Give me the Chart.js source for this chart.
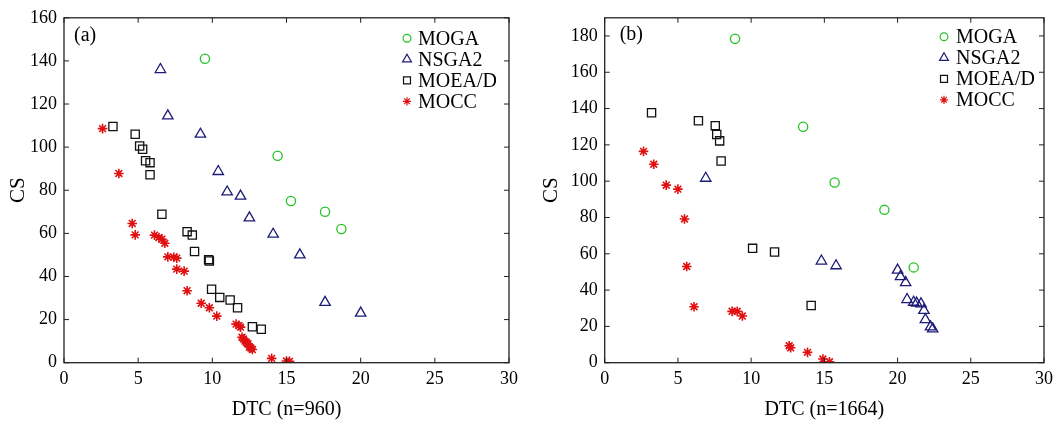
<!DOCTYPE html>
<html><head><meta charset="utf-8">
<script src="https://cdn.jsdelivr.net/npm/chart.js@4/dist/chart.umd.min.js"></script>
<style>
html,body{margin:0;padding:0;background:#fff;width:1059px;height:424px;overflow:hidden}
#ca{position:absolute;left:0;top:0}
#cb{position:absolute;left:530px;top:0}
</style></head><body>
<canvas id="ca" width="530" height="424"></canvas>
<canvas id="cb" width="529" height="424"></canvas>
<script>
const seriesNames = ['MOGA', 'NSGA2', 'MOEA/D', 'MOCC'];
const panelLabels = ['(a)', '(b)'];
const xTitles = ['DTC (n=960)', 'DTC (n=1664)'];
const yTitle = 'CS';
const xTickValues = [0, 5, 10, 15, 20, 25, 30];
const yTicksA = [0, 20, 40, 60, 80, 100, 120, 140, 160];
const yTicksB = [0, 20, 40, 60, 80, 100, 120, 140, 160, 180];

// Panel (a) — [DTC, CS]
const mogaA = [[9.5,141],[14.4,96],[15.3,75],[17.6,70],[18.7,62]];
const nsga2A = [[6.5,136],[7.0,114.5],[9.2,106],[10.4,88.7],[11.0,79.2],[11.9,77.3],[12.5,67.2],[14.1,59.6],[15.9,50],[17.6,28],[20.0,23]];
const moeadA = [[3.3,109.6],[4.8,106],[5.1,100.5],[5.3,99],[5.5,93.7],[5.8,92.8],[5.8,87.2],[6.6,68.9],[8.3,60.8],[8.65,59.2],[8.8,51.6],[9.75,47.8],[9.8,47.2],[9.95,34.1],[10.5,30.3],[11.2,29.1],[11.7,25.5],[12.7,16.7],[13.3,15.5]];
const moccA = [[2.6,108.6],[3.7,87.8],[4.6,64.6],[4.8,59.3],[6.1,59.2],[6.4,58.1],[6.6,57.3],[6.8,55.4],[7.0,49.1],[7.4,48.9],[7.6,48.5],[7.6,43.4],[8.1,42.5],[8.3,33.4],[9.25,27.6],[9.8,25.5],[10.3,21.6],[11.6,17.9],[11.8,17.2],[11.9,16.5],[12.0,11.8],[12.1,11],[12.2,10],[12.3,9.4],[12.4,8.8],[12.5,7.3],[12.6,6.8],[12.7,6.1],[14.0,2.0],[15.0,0.8],[15.2,0.6]];

// Panel (b) — [DTC, CS]
const mogaB = [[8.9,178.5],[13.55,130],[15.7,99.3],[19.1,84.2],[21.1,52.5]];
const nsga2B = [[6.9,101.6],[14.8,56],[15.8,53.4],[20.0,51],[20.2,47.4],[20.55,44.1],[20.65,34.8],[21.1,33.3],[21.3,32.8],[21.6,32.4],[21.8,28.8],[21.9,23.7],[22.25,19.7],[22.4,18.6]];
const moeadB = [[3.2,137.7],[6.4,133.3],[7.55,130.6],[7.65,125.7],[7.85,122.2],[7.95,111.1],[10.1,63],[11.6,61],[14.1,31.5]];
const moccB = [[2.65,116.4],[3.35,109.3],[4.2,97.8],[5.0,95.6],[5.45,79.2],[5.6,53],[6.1,30.8],[8.7,28.3],[9.05,28.3],[9.4,25.7],[12.6,9.3],[12.7,8.2],[13.85,5.7],[14.9,2.0],[15.35,0.5]];

const FONT = "'Liberation Serif', 'Times New Roman', serif";
const styles = [
  {pointStyle:'circle', radius:4.6, color:'#22c322', lw:1.3},
  {pointStyle:'triangle', radius:6, color:'#1b1b78', lw:1.3},
  {pointStyle:'rect', radius:5.8, color:'#111111', lw:1.3},
  {pointStyle:'star', radius:4.8, color:'#e01010', lw:1.6}
];

function toPts(arr){ return arr.map(p => ({x:p[0], y:p[1]})); }

function makeDatasets(series){
  return series.map((s,i) => ({
    label: seriesNames[i],
    data: toPts(s),
    pointStyle: styles[i].pointStyle,
    pointRadius: styles[i].radius,
    pointBorderColor: styles[i].color,
    pointBackgroundColor: 'rgba(0,0,0,0)',
    pointBorderWidth: styles[i].lw,
    showLine: false
  }));
}

const framePlugin = {
  id: 'frame',
  afterDatasetsDraw(chart){
    const {ctx, chartArea: a, scales} = chart;
    const o = chart.options.plugins.frame;
    ctx.save();
    ctx.strokeStyle = '#222';
    ctx.lineWidth = 1.3;
    ctx.strokeRect(a.left, a.top, a.right - a.left, a.bottom - a.top);
    ctx.lineWidth = 1;
    const tl = 5;
    ctx.beginPath();
    scales.x.ticks.forEach(t => {
      const px = scales.x.getPixelForValue(t.value);
      ctx.moveTo(px, a.bottom); ctx.lineTo(px, a.bottom - tl);
      ctx.moveTo(px, a.top); ctx.lineTo(px, a.top + tl);
    });
    scales.y.ticks.forEach(t => {
      const py = scales.y.getPixelForValue(t.value);
      ctx.moveTo(a.left, py); ctx.lineTo(a.left + tl, py);
      ctx.moveTo(a.right, py); ctx.lineTo(a.right - tl, py);
    });
    ctx.stroke();
    // panel label
    ctx.fillStyle = '#000';
    ctx.font = '20px ' + FONT;
    ctx.textBaseline = 'middle';
    ctx.textAlign = 'left';
    ctx.fillText(o.label, a.left + o.labelDx, a.top + o.labelDy);
    // legend
    chart.data.datasets.forEach((ds, i) => {
      const y = a.top + o.legTop + i * o.legStep;
      const mx = a.right - o.legRight;
      ctx.strokeStyle = styles[i].color;
      ctx.fillStyle = 'rgba(0,0,0,0)';
      ctx.lineWidth = 1.2;
      Chart.helpers.drawPoint(ctx, {pointStyle: styles[i].pointStyle, radius: styles[i].radius * 0.85, borderWidth: 1.2, rotation: 0}, mx, y);
      ctx.fillStyle = '#000';
      ctx.font = '20px ' + FONT;
      ctx.fillText(ds.label, mx + o.legGap, y + 1);
    });
    ctx.restore();
  }
};

function makeChart(id, series, yMax, yTicks, xTitle, label, yAxisWidth, pad, frameOpts){
  const ctx = document.getElementById(id);
  return new Chart(ctx, {
    type: 'scatter',
    data: { datasets: makeDatasets(series) },
    options: {
      responsive: false,
      animation: false,
      events: [],
      layout: { padding: pad },
      plugins: {
        legend: { display: false },
        tooltip: { enabled: false },
        frame: Object.assign({label: label}, frameOpts)
      },
      scales: {
        x: {
          type: 'linear', min: 0, max: 30,
          afterBuildTicks: s => { s.ticks = xTickValues.map(v => ({value: v})); },
          grid: { display: false, drawTicks: false },
          border: { display: false },
          ticks: { font: { family: FONT, size: 18 }, color: '#000', padding: 6, maxRotation: 0 },
          title: { display: true, text: xTitle, font: { family: FONT, size: 20 }, color: '#000', padding: { top: 0, bottom: 2 } },
          afterFit: s => { s.height = 61.3; }
        },
        y: {
          type: 'linear', min: 0, max: yMax,
          afterBuildTicks: s => { s.ticks = yTicks.map(v => ({value: v})); },
          grid: { display: false, drawTicks: false },
          border: { display: false },
          ticks: { font: { family: FONT, size: 18 }, color: '#000', padding: 7 },
          title: { display: true, text: yTitle, font: { family: FONT, size: 21 }, color: '#000', padding: { top: frameOpts.yTitlePad, bottom: 0 } },
          afterFit: s => { s.width = yAxisWidth; }
        }
      }
    },
    plugins: [framePlugin]
  });
}

makeChart('ca', [mogaA, nsga2A, moeadA, moccA], 160, yTicksA, xTitles[0], panelLabels[0], 64,
  {left: 0, right: 21, top: 11, bottom: 0},
  {labelDx: 10, labelDy: 18, legTop: 20.5, legStep: 21, legRight: 102, legGap: 11, yTitlePad: 6});
makeChart('cb', [mogaB, nsga2B, moeadB, moccB], 190, yTicksB, xTitles[1], panelLabels[1], 74.7,
  {left: 0, right: 12.3, top: 14.3, bottom: 0},
  {labelDx: 15, labelDy: 17, legTop: 19, legStep: 21, legRight: 100, legGap: 12, yTitlePad: 8.5});
</script>
</body></html>
